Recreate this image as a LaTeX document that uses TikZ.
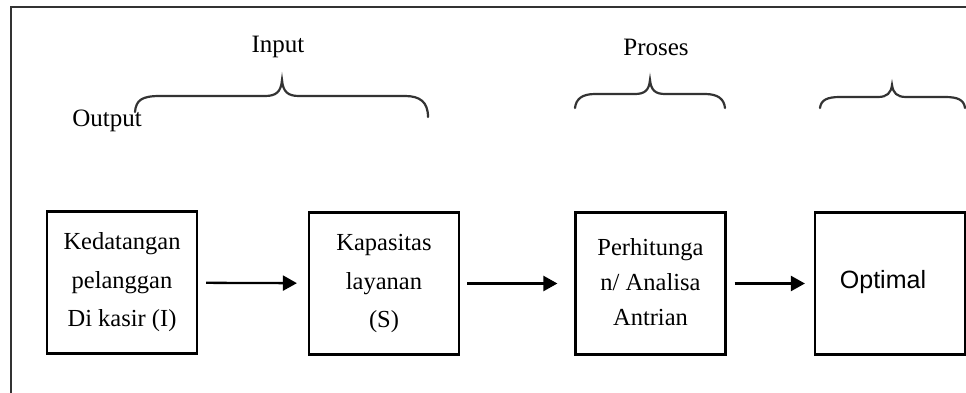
\documentclass[tikz,border=0pt]{standalone}
\usepackage{fontspec}
\setmainfont{Liberation Serif}
\newfontfamily\arialfont{Liberation Sans}
\usetikzlibrary{arrows.meta}
\begin{document}
\begin{tikzpicture}[x=1pt,y=-1pt,
  boxnode/.style={draw=black,line width=2.2pt,minimum width=150pt,minimum height=142pt,inner sep=0pt,align=center,font=\fontsize{24.5}{38.5}\selectfont},
  arr/.style={line width=2.3pt,-{Triangle[length=14pt,width=15pt]}},
  brace/.style={draw=black!80,line width=2.2pt,line cap=round},
  lbl/.style={font=\fontsize{25}{28}\selectfont,inner sep=0pt}]
\useasboundingbox (0,0) rectangle (966,393);
\draw[black!80,line width=2.2pt] (11,393) -- (11,7) -- (966,7);
\node[boxnode] (b1) at (122,282.5) {Kedatangan\\pelanggan\\Di kasir (I)};
\node[boxnode] (b2) at (384,283.5) {Kapasitas\\layanan\\(S)};
\node[boxnode,font=\fontsize{24.5}{35}\selectfont] (b3) at (650.5,283.5) {\raisebox{7pt}{\begin{tabular}{@{}c@{}}Perhitunga\\n/ Analisa\\Antrian\end{tabular}}};
\node[boxnode,font=\arialfont\fontsize{25}{30}\selectfont,text depth=0pt] (b4) at (890,283.5) {\raisebox{8pt}{Optimal}\hspace*{14pt}};
\draw[arr,shorten <=8pt,shorten >=11pt] (b1) -- (b2);
\draw[arr,shorten <=7pt,shorten >=17pt] (b2) -- (b3);
\draw[arr,shorten <=8pt,shorten >=9pt] (b3) -- (b4);
\node[lbl] (in) at (278,47) {Input};
\node[lbl] (pr) at (656,47) {Proses};
\node[lbl] (out) at (107,121) {Output};
\draw[brace] (135,112) .. controls (136,100) and (142,96) .. (160,96) -- (265,96) .. controls (276,96) and (281,92) .. (282,80) .. controls (283,92) and (288,96) .. (299,96) -- (405,96) .. controls (420,96) and (428,102) .. (428,117);
\draw[brace] (575,108) .. controls (576,99) and (582,94) .. (595,94) -- (635,94) .. controls (645,94) and (649,90) .. (650,80) .. controls (651,90) and (655,94) .. (665,94) -- (705,94) .. controls (718,94) and (724,99) .. (725,108);
\draw[brace] (820,108) .. controls (821,100) and (827,97) .. (840,97) -- (878,97) .. controls (887,97) and (891,93) .. (892,85) .. controls (893,93) and (897,97) .. (906,97) -- (945,97) .. controls (958,97) and (964,100) .. (965,108);
\end{tikzpicture}
\end{document}
